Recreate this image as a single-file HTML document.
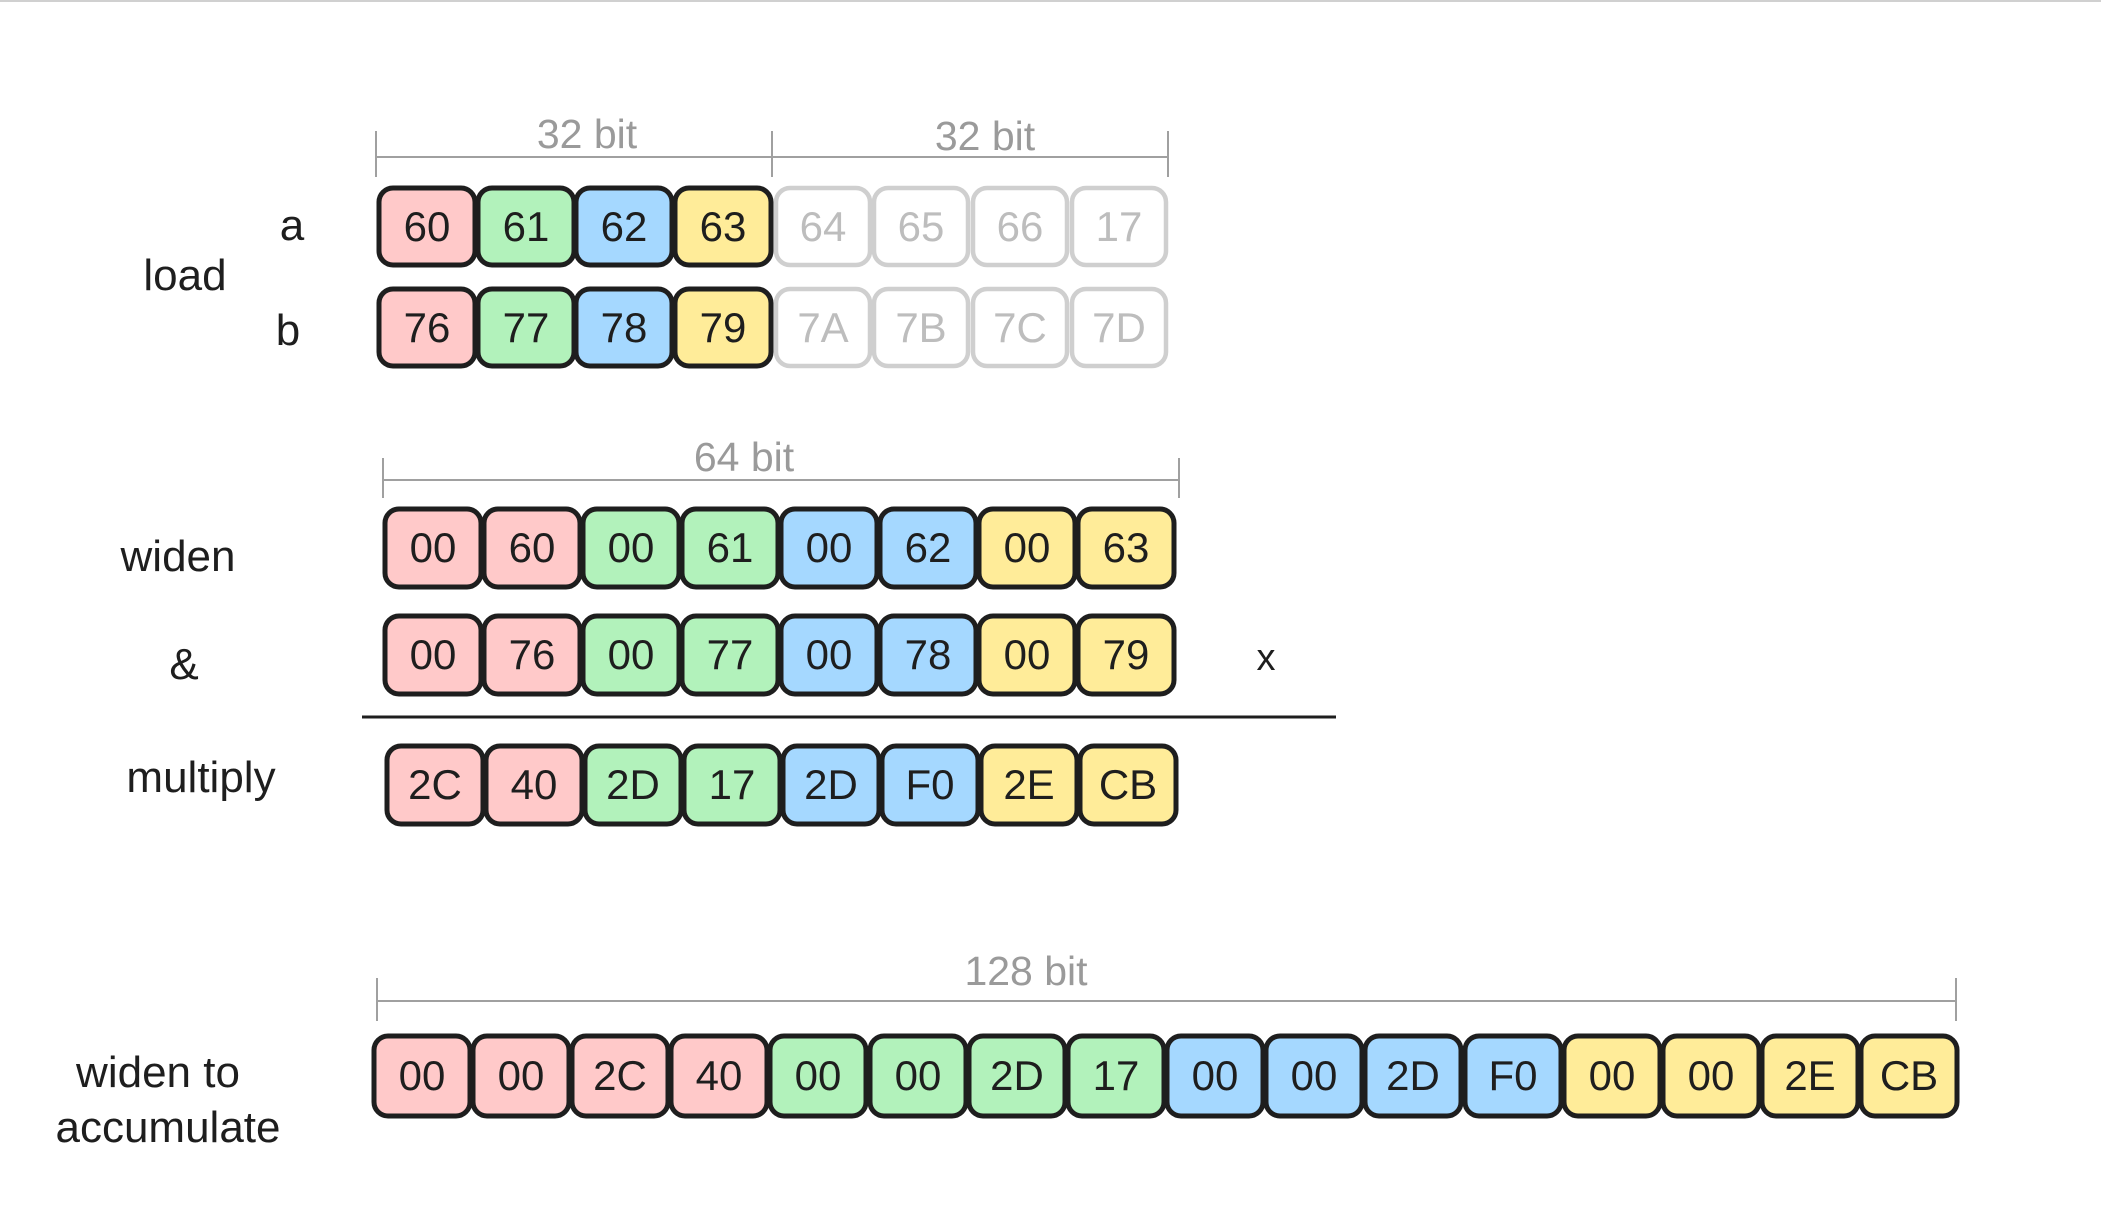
<!DOCTYPE html>
<html><head><meta charset="utf-8"><style>
html,body{margin:0;padding:0;background:#fff}
svg{display:block}
text{font-family:"Liberation Sans",sans-serif}
.b{stroke:#1e1e1e;stroke-width:5}
.g{fill:#fff;stroke:#cfcfcf;stroke-width:4.5}
.t{font-size:42px;text-anchor:middle;fill:#1e1e1e}
.tg{font-size:42px;text-anchor:middle;fill:#bdbdbd}
.l{font-size:44px;fill:#1e1e1e;text-anchor:middle}
.r{fill:#ffc9c9}.gr{fill:#b2f2bb}.bl{fill:#a5d8ff}.y{fill:#ffec99}
.dim{stroke:#a0a0a0;stroke-width:2;fill:none}
.dt{font-size:41px;fill:#9a9a9a;text-anchor:middle}
</style></head><body>
<svg width="2101" height="1207" viewBox="0 0 2101 1207" xmlns="http://www.w3.org/2000/svg">
<line x1="0" y1="1" x2="2101" y2="1" stroke="#d0d0d0" stroke-width="2"/>
<path class="dim" d="M376 131V177M772 131V177M1168 131V177M376 157H1168"/>
<text class="dt" x="587" y="148">32 bit</text>
<text class="dt" x="985" y="150">32 bit</text>
<text class="l" x="292" y="240">a</text>
<text class="l" x="288" y="345">b</text>
<text class="l" x="185" y="290">load</text>
<g>
<rect class="b r" x="379" y="188" width="96" height="77" rx="14"/><text class="t" x="427" y="241">60</text>
<rect class="b gr" x="478" y="188" width="96" height="77" rx="14"/><text class="t" x="526" y="241">61</text>
<rect class="b bl" x="576" y="188" width="96" height="77" rx="14"/><text class="t" x="624" y="241">62</text>
<rect class="b y" x="675" y="188" width="96" height="77" rx="14"/><text class="t" x="723" y="241">63</text>
<rect class="g" x="776" y="188" width="94" height="77" rx="14"/><text class="tg" x="823" y="241">64</text>
<rect class="g" x="874" y="188" width="94" height="77" rx="14"/><text class="tg" x="921" y="241">65</text>
<rect class="g" x="973" y="188" width="94" height="77" rx="14"/><text class="tg" x="1020" y="241">66</text>
<rect class="g" x="1072" y="188" width="94" height="77" rx="14"/><text class="tg" x="1119" y="241">17</text>
</g>
<g>
<rect class="b r" x="379" y="289" width="96" height="77" rx="14"/><text class="t" x="427" y="342">76</text>
<rect class="b gr" x="478" y="289" width="96" height="77" rx="14"/><text class="t" x="526" y="342">77</text>
<rect class="b bl" x="576" y="289" width="96" height="77" rx="14"/><text class="t" x="624" y="342">78</text>
<rect class="b y" x="675" y="289" width="96" height="77" rx="14"/><text class="t" x="723" y="342">79</text>
<rect class="g" x="776" y="289" width="94" height="77" rx="14"/><text class="tg" x="823" y="342">7A</text>
<rect class="g" x="874" y="289" width="94" height="77" rx="14"/><text class="tg" x="921" y="342">7B</text>
<rect class="g" x="973" y="289" width="94" height="77" rx="14"/><text class="tg" x="1020" y="342">7C</text>
<rect class="g" x="1072" y="289" width="94" height="77" rx="14"/><text class="tg" x="1119" y="342">7D</text>
</g>
<path class="dim" d="M383 458V498M1179 458V498M383 480H1179"/>
<text class="dt" x="744" y="471">64 bit</text>
<text class="l" x="178" y="571">widen</text>
<text class="l" x="184" y="679">&amp;</text>
<text class="l" x="201" y="792">multiply</text>
<text class="l" x="1266" y="670" style="font-size:38px">x</text>
<line x1="362" y1="717" x2="1336" y2="717" stroke="#1e1e1e" stroke-width="3"/>
<g>
<rect class="b r" x="385" y="509" width="96" height="78" rx="14"/><text class="t" x="433" y="562">00</text>
<rect class="b r" x="484" y="509" width="96" height="78" rx="14"/><text class="t" x="532" y="562">60</text>
<rect class="b gr" x="583" y="509" width="96" height="78" rx="14"/><text class="t" x="631" y="562">00</text>
<rect class="b gr" x="682" y="509" width="96" height="78" rx="14"/><text class="t" x="730" y="562">61</text>
<rect class="b bl" x="781" y="509" width="96" height="78" rx="14"/><text class="t" x="829" y="562">00</text>
<rect class="b bl" x="880" y="509" width="96" height="78" rx="14"/><text class="t" x="928" y="562">62</text>
<rect class="b y" x="979" y="509" width="96" height="78" rx="14"/><text class="t" x="1027" y="562">00</text>
<rect class="b y" x="1078" y="509" width="96" height="78" rx="14"/><text class="t" x="1126" y="562">63</text>
</g>
<g>
<rect class="b r" x="385" y="616" width="96" height="78" rx="14"/><text class="t" x="433" y="669">00</text>
<rect class="b r" x="484" y="616" width="96" height="78" rx="14"/><text class="t" x="532" y="669">76</text>
<rect class="b gr" x="583" y="616" width="96" height="78" rx="14"/><text class="t" x="631" y="669">00</text>
<rect class="b gr" x="682" y="616" width="96" height="78" rx="14"/><text class="t" x="730" y="669">77</text>
<rect class="b bl" x="781" y="616" width="96" height="78" rx="14"/><text class="t" x="829" y="669">00</text>
<rect class="b bl" x="880" y="616" width="96" height="78" rx="14"/><text class="t" x="928" y="669">78</text>
<rect class="b y" x="979" y="616" width="96" height="78" rx="14"/><text class="t" x="1027" y="669">00</text>
<rect class="b y" x="1078" y="616" width="96" height="78" rx="14"/><text class="t" x="1126" y="669">79</text>
</g>
<g>
<rect class="b r" x="387" y="746" width="96" height="78" rx="14"/><text class="t" x="435" y="799">2C</text>
<rect class="b r" x="486" y="746" width="96" height="78" rx="14"/><text class="t" x="534" y="799">40</text>
<rect class="b gr" x="585" y="746" width="96" height="78" rx="14"/><text class="t" x="633" y="799">2D</text>
<rect class="b gr" x="684" y="746" width="96" height="78" rx="14"/><text class="t" x="732" y="799">17</text>
<rect class="b bl" x="783" y="746" width="96" height="78" rx="14"/><text class="t" x="831" y="799">2D</text>
<rect class="b bl" x="882" y="746" width="96" height="78" rx="14"/><text class="t" x="930" y="799">F0</text>
<rect class="b y" x="981" y="746" width="96" height="78" rx="14"/><text class="t" x="1029" y="799">2E</text>
<rect class="b y" x="1080" y="746" width="96" height="78" rx="14"/><text class="t" x="1128" y="799">CB</text>
</g>
<path class="dim" d="M377 978V1021M1956 978V1021M377 1001H1956"/>
<text class="dt" x="1026" y="985">128 bit</text>
<text class="l" x="158" y="1087">widen to</text>
<text class="l" x="168" y="1142">accumulate</text>
<g>
<rect class="b r" x="374" y="1036" width="96" height="80" rx="14"/><text class="t" x="422" y="1090">00</text>
<rect class="b r" x="473" y="1036" width="96" height="80" rx="14"/><text class="t" x="521" y="1090">00</text>
<rect class="b r" x="572" y="1036" width="96" height="80" rx="14"/><text class="t" x="620" y="1090">2C</text>
<rect class="b r" x="671" y="1036" width="96" height="80" rx="14"/><text class="t" x="719" y="1090">40</text>
<rect class="b gr" x="770" y="1036" width="96" height="80" rx="14"/><text class="t" x="818" y="1090">00</text>
<rect class="b gr" x="870" y="1036" width="96" height="80" rx="14"/><text class="t" x="918" y="1090">00</text>
<rect class="b gr" x="969" y="1036" width="96" height="80" rx="14"/><text class="t" x="1017" y="1090">2D</text>
<rect class="b gr" x="1068" y="1036" width="96" height="80" rx="14"/><text class="t" x="1116" y="1090">17</text>
<rect class="b bl" x="1167" y="1036" width="96" height="80" rx="14"/><text class="t" x="1215" y="1090">00</text>
<rect class="b bl" x="1266" y="1036" width="96" height="80" rx="14"/><text class="t" x="1314" y="1090">00</text>
<rect class="b bl" x="1365" y="1036" width="96" height="80" rx="14"/><text class="t" x="1413" y="1090">2D</text>
<rect class="b bl" x="1465" y="1036" width="96" height="80" rx="14"/><text class="t" x="1513" y="1090">F0</text>
<rect class="b y" x="1564" y="1036" width="96" height="80" rx="14"/><text class="t" x="1612" y="1090">00</text>
<rect class="b y" x="1663" y="1036" width="96" height="80" rx="14"/><text class="t" x="1711" y="1090">00</text>
<rect class="b y" x="1762" y="1036" width="96" height="80" rx="14"/><text class="t" x="1810" y="1090">2E</text>
<rect class="b y" x="1861" y="1036" width="96" height="80" rx="14"/><text class="t" x="1909" y="1090">CB</text>
</g>
</svg>
</body></html>
